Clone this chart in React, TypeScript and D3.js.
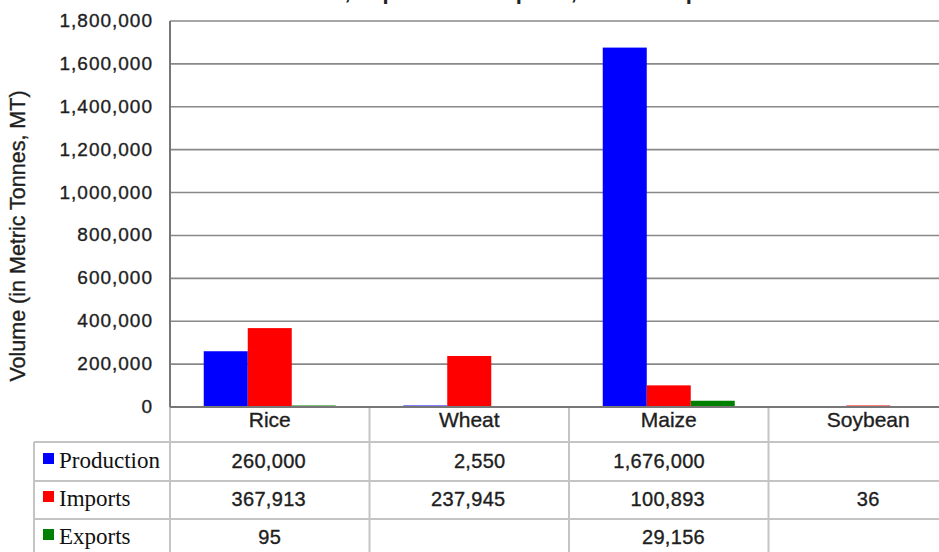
import * as d3 from "d3";
import React from "react";

const categories = ["Rice", "Wheat", "Maize", "Soybean"];
const seriesNames = ["Production", "Imports", "Exports"];
const production = [260000, 2550, 1676000, null];
const imports = [367913, 237945, 100893, 36];
const exportsVol = [95, null, 29156, null];
const yTicks = [0, 200000, 400000, 600000, 800000, 1000000, 1200000, 1400000, 1600000, 1800000];
const colors = ["#0000ff", "#ff0000", "#008000"];

const W = 939;
const H = 552;
const left = 170;
const top = 21;
const bottom = 407;
const bandW = 199.5;

export default function App() {
  const seriesValues = [production, imports, exportsVol];
  const fmt = d3.format(",");

  const x0 = d3
    .scaleBand()
    .domain(categories)
    .range([left, left + bandW * categories.length]);
  const x1 = d3
    .scaleBand()
    .domain(seriesNames)
    .range([0, x0.bandwidth()])
    .paddingInner(0)
    .paddingOuter(0.767);
  const y = d3.scaleLinear().domain([0, 1800000]).range([bottom, top]);

  // table rows
  const rowLines = [442, 481, 519];
  const rowMid = [462, 500, 538];
  const tableLine = "#c4c4c4";
  const sans = "'Liberation Sans', Arial, Helvetica, sans-serif";
  const ink = { fill: "#1e1e1e", stroke: "#1e1e1e", strokeWidth: 0.35 };

  return (
    <svg
      width={W}
      height={H}
      style={{ position: "absolute", left: 0, top: 0, background: "#fff" }}
      fontFamily={sans}
    >
      {/* title, cut off at the top like the source */}
      <text x={465} y={-1} textAnchor="middle" fontSize={22} fontWeight="bold" fill="#222">
        Grain Production, Imports and Exports, 2011 Comparison
      </text>

      {/* gridlines */}
      {yTicks.map((t) => (
        <line
          key={"g" + t}
          x1={left}
          x2={W}
          y1={y(t)}
          y2={y(t)}
          stroke="#888"
          strokeWidth={1.6}
        />
      ))}

      {/* y tick labels */}
      {yTicks.map((t) => (
        <text
          key={"t" + t}
          x={153}
          y={y(t) + 1}
          textAnchor="end"
          dominantBaseline="middle"
          fontSize={19}
          letterSpacing={1}
          {...ink}
        >
          {fmt(t)}
        </text>
      ))}

      <text
        transform={`translate(25,236) rotate(-90)`}
        textAnchor="middle"
        fontSize={21.5}
        {...ink}
      >
        Volume (in Metric Tonnes, MT)
      </text>

      {/* bars */}
      {categories.map((c, i) => (
        <g key={c} transform={`translate(${x0(c)},0)`}>
          {seriesNames.map((s, k) => {
            const v = seriesValues[k][i];
            if (v == null) return null;
            const h = Math.max(bottom - y(v), 1.5);
            return (
              <rect
                key={s}
                x={x1(s)}
                y={bottom - h}
                width={x1.bandwidth()}
                height={h}
                fill={colors[k]}
              />
            );
          })}
        </g>
      ))}

      {/* table lines */}
      {rowLines.map((ry) => (
        <line key={"r" + ry} x1={34} x2={W} y1={ry} y2={ry} stroke={tableLine} strokeWidth={2} />
      ))}
      <line x1={34} x2={34} y1={rowLines[0]} y2={H} stroke={tableLine} strokeWidth={2} />
      {categories.map((c) => (
        <line
          key={"v" + c}
          x1={x0(c)}
          x2={x0(c)}
          y1={bottom}
          y2={H}
          stroke={tableLine}
          strokeWidth={2}
        />
      ))}

      {/* axes */}
      <line x1={left} x2={left} y1={top} y2={bottom} stroke="#777" strokeWidth={2} />
      <line x1={left} x2={W} y1={bottom} y2={bottom} stroke="#777" strokeWidth={2} />

      {/* category labels */}
      {categories.map((c) => (
        <text
          key={"c" + c}
          x={x0(c) + x0.bandwidth() / 2}
          y={421}
          textAnchor="middle"
          dominantBaseline="middle"
          fontSize={21}
          {...ink}
        >
          {c}
        </text>
      ))}

      {/* legend cells */}
      {seriesNames.map((s, k) => (
        <g key={"l" + s}>
          <rect x={43} y={rowMid[k] - 9} width={11} height={11} fill={colors[k]} />
          <text
            x={59}
            y={rowMid[k] + 1}
            dominantBaseline="middle"
            fontSize={23}
            fontFamily="'Liberation Serif', 'Times New Roman', serif"
            fill="#111"
          >
            {s}
          </text>
        </g>
      ))}

      {/* values */}
      {seriesNames.map((s, k) =>
        categories.map((c, i) => {
          const v = seriesValues[k][i];
          if (v == null) return null;
          const str = fmt(v);
          const short = str.length < 4;
          return (
            <text
              key={s + c}
              x={short ? x0(c) + x0.bandwidth() / 2 : x0(c) + 136}
              y={rowMid[k] + 1}
              textAnchor={short ? "middle" : "end"}
              dominantBaseline="middle"
              fontSize={20}
              letterSpacing={0.3}
              {...ink}
            >
              {str}
            </text>
          );
        })
      )}
    </svg>
  );
}
